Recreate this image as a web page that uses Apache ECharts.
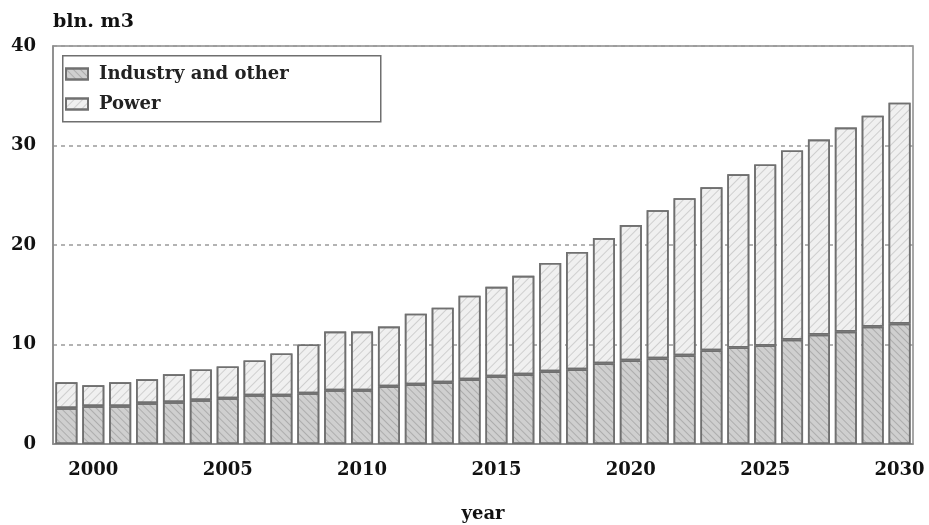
<!DOCTYPE html>
<html>
<head>
<meta charset="utf-8">
<title>Gas consumption, bln. m3</title>
<script src="https://cdn.jsdelivr.net/npm/echarts@6/dist/echarts.min.js"></script>
<style>
  html, body { margin: 0; padding: 0; background: #ffffff; }
  #chart { width: 929px; height: 525px; }
</style>
</head>
<body>
<div id="chart"></div>
<script>
// Years on the category axis
const years = [
  '1999', '2000', '2001', '2002', '2003', '2004', '2005', '2006', '2007', '2008',
  '2009', '2010', '2011', '2012', '2013', '2014', '2015', '2016', '2017', '2018',
  '2019', '2020', '2021', '2022', '2023', '2024', '2025', '2026', '2027', '2028',
  '2029', '2030'
];

// Industry and other consumption, bln. m3
const industry = [
  3.6, 3.8, 3.8, 4.1, 4.2, 4.4, 4.6, 4.9, 4.9, 5.1,
  5.4, 5.4, 5.8, 6.0, 6.2, 6.5, 6.8, 7.0, 7.3, 7.5,
  8.1, 8.4, 8.6, 8.9, 9.4, 9.7, 9.9, 10.5, 11.0, 11.3,
  11.8, 12.1
];

// Total consumption (top of each stacked bar), bln. m3
const total = [
  6.2, 5.9, 6.2, 6.5, 7.0, 7.5, 7.8, 8.4, 9.1, 10.0,
  11.3, 11.3, 11.8, 13.1, 13.7, 14.9, 15.8, 16.9, 18.2, 19.3,
  20.7, 22.0, 23.5, 24.7, 25.8, 27.1, 28.1, 29.5, 30.6, 31.8,
  33.0, 34.3
];

// Power sector share = total minus industry
const power = total.map((t, i) => +(t - industry[i]).toFixed(2));

const yTicks = [0, 10, 20, 30, 40];
const seriesNames = ['Industry and other', 'Power'];

const FONT = '"DejaVu Serif", serif';

const chart = echarts.init(document.getElementById('chart'), null, { renderer: 'canvas' });

const barBorder = { borderColor: '#707070', borderWidth: 1.6 };

chart.setOption({
  animation: false,
  backgroundColor: '#ffffff',
  title: {
    text: 'bln. m3',
    left: 48,
    top: 8,
    textStyle: { fontFamily: FONT, fontWeight: 'bold', fontSize: 19, color: '#111' }
  },
  grid: {
    left: 53, right: 16, top: 46, bottom: 81,
    outerBoundsMode: 'none',
    containLabel: false,
    show: true, borderColor: '#8a8a8a', borderWidth: 1.5, backgroundColor: 'transparent'
  },
  graphic: [{
    type: 'rect',
    left: 62, top: 55,
    shape: { width: 318, height: 66 },
    style: { fill: '#ffffff', stroke: '#6f6f6f', lineWidth: 1.5 },
    z: 5
  }],
  legend: {
    data: seriesNames,
    orient: 'vertical',
    left: 60, top: 60,
    itemWidth: 22, itemHeight: 11,
    itemGap: 12,
    icon: 'rect',
    textStyle: { fontFamily: FONT, fontWeight: 'bold', fontSize: 18, color: '#222', padding: [0, 0, 0, 6] },
    z: 10
  },
  xAxis: {
    type: 'category',
    data: years,
    name: 'year',
    nameLocation: 'middle',
    nameGap: 61,
    nameTextStyle: { fontFamily: FONT, fontWeight: 'bold', fontSize: 18, color: '#111' },
    axisLine: { show: true, lineStyle: { color: '#8a8a8a', width: 1.5 } },
    axisTick: { show: false },
    axisLabel: {
      interval: (idx, val) => Number(val) % 5 === 0,
      margin: 17,
      fontFamily: FONT, fontWeight: 'bold', fontSize: 18, color: '#111'
    },
    splitLine: { show: false }
  },
  yAxis: {
    type: 'value',
    min: yTicks[0],
    max: yTicks[yTicks.length - 1],
    interval: 10,
    axisLine: { show: true, lineStyle: { color: '#8a8a8a', width: 1.5 } },
    axisTick: { show: false },
    axisLabel: {
      margin: 17,
      fontFamily: FONT, fontWeight: 'bold', fontSize: 18, color: '#111'
    },
    splitLine: { show: true, lineStyle: { color: '#9a9a9a', type: [4, 4], width: 1.5 } }
  },
  series: [
    {
      name: seriesNames[0],
      type: 'bar',
      stack: 'gas',
      data: industry,
      barWidth: 22,
      itemStyle: Object.assign({
        color: '#cfcfcf',
        decal: {
          symbol: 'rect',
          color: 'rgba(110,110,110,0.35)',
          dashArrayX: [1, 0],
          dashArrayY: [1, 4],
          rotation: Math.PI / 4
        }
      }, barBorder)
    },
    {
      name: seriesNames[1],
      type: 'bar',
      stack: 'gas',
      data: power,
      barWidth: 22,
      itemStyle: Object.assign({
        color: '#f0f0f0',
        decal: {
          symbol: 'rect',
          color: 'rgba(130,130,130,0.3)',
          dashArrayX: [1, 0],
          dashArrayY: [1, 5],
          rotation: -Math.PI / 4
        }
      }, barBorder)
    }
  ]
});
</script>
</body>
</html>
